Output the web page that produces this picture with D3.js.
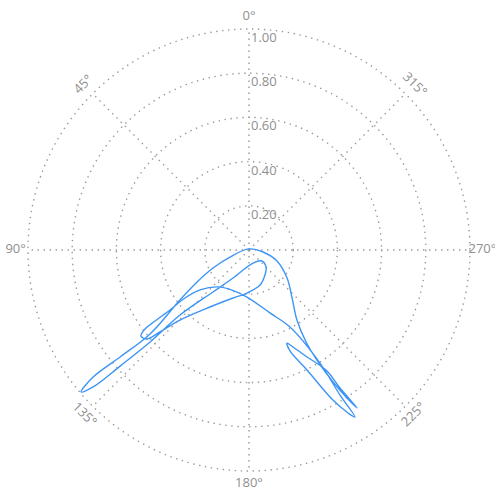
<!DOCTYPE html>
<html><head><meta charset="utf-8">
<script src="https://cdn.jsdelivr.net/npm/d3@7"></script>
<style>body{margin:0;background:#fff}svg{display:block}</style>
</head><body>
<svg id="chart" width="495" height="489"></svg>
<script>
const angleTicks = [0, 45, 90, 135, 180, 225, 270, 315];
const angleLabels = ["0°", "45°", "90°", "135°", "180°", "225°", "270°", "315°"];
const radialTicks = [0.2, 0.4, 0.6, 0.8, 1.0];
const radialLabels = ["0.20", "0.40", "0.60", "0.80", "1.00"];
// series (closed curve): angle in degrees counter-clockwise from top, radius
const thetaDeg = [130.2,129.2,129.7,130.3,125.9,121.6,116.6,110.2,0,261.9,248.6,233.6,221.9,214.4,211.8,211.7,212.5,213.6,214.4,
  213.4,212.8,208.5,204.4,202.2,202.1,205.8,209.2,211.3,212.4,212.1,212.1,208.0,198.4,177.6,157.0,140.0,129.2,126.9,127.2,127.1,127.2,128.5,
  131.1,132.6,135.4,145.6,161.6,177.3,197.5,212.6,225,229.8,197.1,150.3,139.4,133.3,132.9,132.0,131.3];
const radius = [0.995,0.910,0.758,0.587,0.386,0.276,0.182,0.092,0.005,0.064,0.136,0.214,0.292,0.384,0.490,0.585,0.708,0.809,0.866,
  0.748,0.651,0.551,0.482,0.455,0.493,0.603,0.778,0.863,0.895,0.775,0.604,0.395,0.300,0.213,0.197,0.218,0.286,0.362,0.449,0.533,0.591,0.625,
  0.613,0.548,0.445,0.3125,0.229,0.195,0.166,0.134,0.109,0.077,0.062,0.146,0.250,0.429,0.611,0.785,0.939];

const svg = d3.select("#chart");
const cx = 249, cy = 250, R = 221;
const g = svg.append("g").attr("transform", `translate(${cx},${cy})`);
const r = d3.scaleLinear().domain([0, 1]).range([0, R]);
const toRad = d => -d * Math.PI / 180; // ccw
const gridStyle = s => s.attr("fill", "none").attr("stroke", "#999").attr("stroke-width", 1.4).attr("stroke-dasharray", "1.4,4.6");

g.selectAll("circle.grid").data(radialTicks).join("circle")
  .attr("class", "grid").attr("r", d => r(d)).call(gridStyle);
g.selectAll("line.spoke").data(angleTicks).join("line")
  .attr("class", "spoke")
  .attr("x1", 0).attr("y1", 0)
  .attr("x2", d => r(1) * Math.sin(toRad(d)))
  .attr("y2", d => -r(1) * Math.cos(toRad(d)))
  .call(gridStyle);

const labR = R + 12.4;
g.selectAll("text.alab").data(angleTicks).join("text")
  .attr("class", "alab")
  .attr("transform", d => {
    const a = toRad(d);
    const x = labR * Math.sin(a), y = -labR * Math.cos(a);
    const rot = (d % 90 === 0) ? 0 : ((d === 45 || d === 225) ? -45 : 45);
    return `translate(${x},${y}) rotate(${rot})`;
  })
  .attr("text-anchor", "middle").attr("dy", "0.25em")
  .attr("font-family", "'Open Sans', sans-serif").attr("font-size", 13)
  .attr("fill", "#8f8f8f")
  .text((d, i) => angleLabels[i]);

g.selectAll("text.rlab").data(radialTicks).join("text")
  .attr("class", "rlab")
  .attr("x", 2).attr("y", d => -r(d) + 13)
  .attr("font-family", "'Open Sans', sans-serif").attr("font-size", 13)
  .attr("fill", "#8f8f8f")
  .text((d, i) => radialLabels[i]);

const pts = thetaDeg.map((t, i) => ({t, r: radius[i]}));
const line = d3.lineRadial()
  .angle(d => toRad(d.t))
  .radius(d => r(d.r))
  .curve(d3.curveCatmullRomClosed.alpha(0.5));
g.append("path").datum(pts)
  .attr("d", line)
  .attr("fill", "none").attr("stroke", "#3d95f5").attr("stroke-width", 1.4);
</script>
</body></html>
